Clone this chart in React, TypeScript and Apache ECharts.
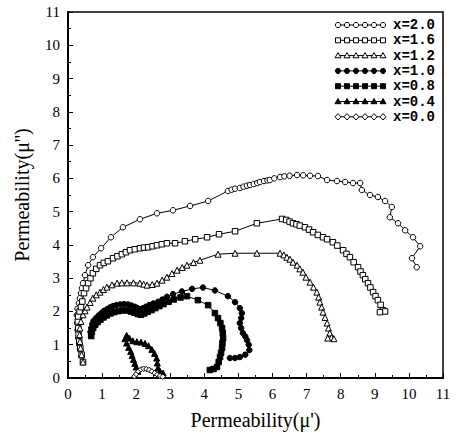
import React, { useEffect, useRef } from "react";
import * as echarts from "echarts";

const xTicks = [0, 1, 2, 3, 4, 5, 6, 7, 8, 9, 10, 11];
const yTicks = [0, 1, 2, 3, 4, 5, 6, 7, 8, 9, 10, 11];
const seriesNames = ["x=2.0", "x=1.6", "x=1.2", "x=1.0", "x=0.8", "x=0.4", "x=0.0"];

const s20: number[][] = [
  [0.44, 0.48], [0.4, 0.65], [0.36, 0.85], [0.33, 1.0], [0.3, 1.2], [0.28, 1.44], [0.27, 1.65], [0.26, 1.89],
  [0.28, 2.08], [0.32, 2.25], [0.35, 2.4], [0.38, 2.55], [0.41, 2.7], [0.44, 2.85], [0.5, 3.09], [0.59, 3.39],
  [0.73, 3.63], [0.97, 3.9], [1.26, 4.23], [1.61, 4.53], [2.11, 4.77], [2.61, 4.95], [3.08, 5.04], [3.58, 5.17],
  [4.11, 5.32], [4.69, 5.62], [4.8, 5.66], [4.9, 5.69], [5.04, 5.71], [5.15, 5.75], [5.25, 5.78], [5.34, 5.8],
  [5.45, 5.83], [5.55, 5.86], [5.63, 5.89], [5.75, 5.92], [5.85, 5.94], [5.92, 5.95], [6.05, 6.0], [6.22, 6.04],
  [6.35, 6.06], [6.5, 6.08], [6.72, 6.1], [6.9, 6.09], [7.1, 6.08], [7.33, 6.07], [7.6, 5.95], [7.89, 5.92],
  [8.13, 5.89], [8.36, 5.86], [8.57, 5.86], [8.62, 5.65], [8.86, 5.5], [9.09, 5.44], [9.3, 5.32], [9.5, 5.14],
  [9.44, 4.83], [9.68, 4.65], [9.89, 4.44], [10.12, 4.23], [10.33, 3.96], [10.09, 3.6], [10.23, 3.33],
];

const s16: number[][] = [
  [0.44, 0.48], [0.4, 0.7], [0.36, 0.9], [0.33, 1.1], [0.31, 1.3], [0.3, 1.5], [0.29, 1.7], [0.3, 1.85],
  [0.34, 2.0], [0.38, 2.13], [0.42, 2.3], [0.47, 2.55], [0.53, 2.7], [0.59, 2.85], [0.66, 3.0], [0.73, 3.15],
  [0.83, 3.28], [0.94, 3.39], [1.05, 3.46], [1.17, 3.51], [1.32, 3.6], [1.45, 3.66], [1.58, 3.72], [1.7, 3.78],
  [1.82, 3.84], [1.96, 3.87], [2.11, 3.9], [2.23, 3.92], [2.35, 3.93], [2.48, 3.96], [2.61, 3.99], [2.75, 4.02],
  [2.9, 4.05], [3.14, 4.05], [3.43, 4.11], [3.73, 4.17], [4.08, 4.23], [4.43, 4.32], [4.9, 4.41], [5.54, 4.65],
  [6.28, 4.78], [6.4, 4.75], [6.5, 4.7], [6.6, 4.65], [6.7, 4.62], [6.8, 4.58], [6.95, 4.53], [7.07, 4.46],
  [7.19, 4.38], [7.33, 4.3], [7.48, 4.23], [7.6, 4.17], [7.77, 4.08], [7.9, 3.98], [8.07, 3.84], [8.17, 3.73],
  [8.27, 3.63], [8.38, 3.48], [8.51, 3.33], [8.58, 3.2], [8.65, 3.09], [8.72, 2.97], [8.8, 2.85], [8.87, 2.72],
  [8.95, 2.58], [9.02, 2.46], [9.09, 2.34], [9.17, 2.2], [9.24, 2.04], [9.3, 2.0], [9.15, 1.98],
];

const s12: number[][] = [
  [0.44, 0.48], [0.4, 0.7], [0.37, 0.9], [0.35, 1.1], [0.34, 1.3], [0.35, 1.5], [0.38, 1.7], [0.44, 1.9],
  [0.5, 2.02], [0.56, 2.13], [0.65, 2.27], [0.73, 2.4], [0.83, 2.5], [0.94, 2.58], [1.04, 2.66], [1.14, 2.73],
  [1.29, 2.8], [1.44, 2.85], [1.58, 2.86], [1.73, 2.86], [1.92, 2.86], [2.11, 2.85], [2.22, 2.82], [2.32, 2.79],
  [2.47, 2.81], [2.61, 2.85], [2.76, 2.94], [2.9, 3.03], [3.05, 3.14], [3.2, 3.24], [3.35, 3.32], [3.49, 3.39],
  [3.68, 3.47], [3.87, 3.54], [4.4, 3.72], [4.9, 3.75], [5.54, 3.75], [6.22, 3.75], [6.33, 3.7], [6.42, 3.63],
  [6.51, 3.57], [6.6, 3.48], [6.72, 3.39], [6.8, 3.28], [6.89, 3.18], [6.98, 3.03], [7.1, 2.88], [7.2, 2.73],
  [7.3, 2.58], [7.35, 2.43], [7.39, 2.28], [7.44, 2.13], [7.48, 1.98], [7.54, 1.82], [7.6, 1.65], [7.64, 1.5],
  [7.68, 1.35], [7.73, 1.22], [7.8, 1.18], [7.62, 1.2],
];

const s10: number[][] = [
  [0.66, 1.38], [0.68, 1.5], [0.71, 1.62], [0.75, 1.72], [0.82, 1.8], [0.9, 1.88], [0.98, 1.95], [1.06, 2.02],
  [1.15, 2.07], [1.23, 2.12], [1.32, 2.16], [1.42, 2.19], [1.53, 2.21], [1.64, 2.22], [1.76, 2.21], [1.86, 2.18],
  [1.97, 2.14], [2.04, 2.1], [2.11, 2.07], [2.2, 2.1], [2.28, 2.14], [2.38, 2.19], [2.5, 2.24], [2.64, 2.29],
  [2.77, 2.36], [2.9, 2.44], [3.08, 2.52], [3.34, 2.6], [3.64, 2.68], [3.96, 2.72], [4.31, 2.63], [4.69, 2.46],
  [4.9, 2.28], [5.04, 2.1], [5.1, 1.95], [5.08, 1.8], [5.04, 1.65], [5.08, 1.5], [5.13, 1.35], [5.2, 1.25],
  [5.25, 1.14], [5.3, 1.0], [5.32, 0.84], [5.2, 0.7], [5.04, 0.63], [4.9, 0.6], [4.75, 0.6],
];

const s08: number[][] = [
  [0.68, 1.26], [0.7, 1.38], [0.74, 1.5], [0.8, 1.6], [0.87, 1.68], [0.95, 1.75], [1.04, 1.82], [1.14, 1.88],
  [1.25, 1.94], [1.36, 1.98], [1.48, 2.01], [1.6, 2.03], [1.72, 2.03], [1.84, 2.0], [1.95, 1.96], [2.05, 1.92],
  [2.14, 1.9], [2.24, 1.94], [2.34, 1.99], [2.45, 2.04], [2.56, 2.1], [2.68, 2.16], [2.8, 2.22], [2.95, 2.29],
  [3.1, 2.36], [3.3, 2.42], [3.49, 2.46], [3.81, 2.34], [4.11, 2.19], [4.31, 1.95], [4.4, 1.8], [4.47, 1.65],
  [4.52, 1.5], [4.54, 1.35], [4.55, 1.2], [4.53, 1.05], [4.52, 0.9], [4.49, 0.76], [4.46, 0.63], [4.42, 0.48],
  [4.37, 0.33], [4.27, 0.27], [4.16, 0.24],
];

const s04: number[][] = [
  [2.79, 0.15], [2.7, 0.2], [2.64, 0.3], [2.62, 0.45], [2.6, 0.6], [2.54, 0.74], [2.46, 0.86], [2.36, 0.97],
  [2.26, 1.04], [2.14, 1.08], [2.02, 1.09], [1.9, 1.12], [1.8, 1.2], [1.72, 1.28], [1.67, 1.18], [1.72, 1.05],
  [1.78, 0.92], [1.84, 0.8], [1.88, 0.68], [1.92, 0.56], [1.96, 0.44], [2.0, 0.33], [2.05, 0.2],
];

const s00: number[][] = [
  [1.95, 0.05], [2.0, 0.12], [2.06, 0.2], [2.14, 0.26], [2.22, 0.28], [2.3, 0.27], [2.38, 0.24], [2.46, 0.2],
  [2.54, 0.15], [2.62, 0.1], [2.7, 0.06], [2.78, 0.04],
];

const seriesData = [s20, s16, s12, s10, s08, s04, s00];
const symbols = ["circle", "rect", "triangle", "circle", "rect", "triangle", "diamond"];
const filled = [false, false, false, true, true, true, false];

const FONT = "'Liberation Serif', 'DejaVu Serif', serif";

function legendMarker(kind: string, cx: number, cy: number, fill: boolean) {
  const style = { fill: fill ? "#000" : "#fff", stroke: "#000", lineWidth: 1 };
  if (kind === "circle") return { type: "circle", shape: { cx, cy, r: 2.6 }, style };
  if (kind === "rect") return { type: "rect", shape: { x: cx - 2.5, y: cy - 2.5, width: 5, height: 5 }, style };
  if (kind === "triangle")
    return { type: "polygon", shape: { points: [[cx, cy - 3], [cx + 3, cy + 2.2], [cx - 3, cy + 2.2]] }, style };
  return { type: "polygon", shape: { points: [[cx, cy - 3.2], [cx + 3, cy], [cx, cy + 3.2], [cx - 3, cy]] }, style };
}

export default function App() {
  const ref = useRef<HTMLDivElement>(null);
  useEffect(() => {
    const chart = echarts.init(ref.current!, null, { renderer: "svg" });
    const legendEls: any[] = [];
    seriesNames.forEach((name, i) => {
      const y = 25 + i * 15.3;
      const x0 = 338;
      const x1 = 383;
      legendEls.push({ type: "line", shape: { x1: x0, y1: y, x2: x1, y2: y }, style: { stroke: "#000", lineWidth: 1 } });
      for (let k = 0; k < 6; k++) {
        legendEls.push(legendMarker(symbols[i], x0 + (k * (x1 - x0)) / 5, y, filled[i]));
      }
      legendEls.push({
        type: "text",
        x: 393,
        y,
        style: { text: name, font: `bold 14px 'Liberation Mono', monospace`, fill: "#000", verticalAlign: "middle", align: "left" },
      });
    });

    chart.setOption({
      animation: false,
      backgroundColor: "#fff",
      grid: { left: 68, right: 15, top: 12, bottom: 59, show: true, borderColor: "#000", borderWidth: 1.5, backgroundColor: "transparent" },
      xAxis: {
        type: "value",
        min: 0,
        max: 11,
        interval: 1,
        name: "Permeability(μ')",
        nameLocation: "middle",
        nameGap: 32,
        nameTextStyle: { fontFamily: FONT, fontSize: 20, color: "#000" },
        axisLine: { show: true, lineStyle: { color: "#000", width: 2 } },
        axisTick: { show: true, inside: true, length: 5, lineStyle: { color: "#000", width: 1 } },
        minorTick: { show: true, splitNumber: 2, length: 3, lineStyle: { color: "#000" } },
        axisLabel: { fontFamily: FONT, fontSize: 15, color: "#000", margin: 8, customValues: xTicks },
        splitLine: { show: false },
      },
      yAxis: {
        type: "value",
        min: 0,
        max: 11,
        interval: 1,
        name: "Permeability(μ'')",
        nameLocation: "middle",
        nameGap: 36,
        nameTextStyle: { fontFamily: FONT, fontSize: 20, color: "#000" },
        axisLine: { show: true, lineStyle: { color: "#000", width: 2 } },
        axisTick: { show: true, inside: true, length: 5, lineStyle: { color: "#000", width: 1 } },
        minorTick: { show: true, splitNumber: 2, length: 3, lineStyle: { color: "#000" } },
        axisLabel: { fontFamily: FONT, fontSize: 15, color: "#000", margin: 8, customValues: yTicks },
        splitLine: { show: false },
      },
      series: seriesData.map((data, i) => ({
        name: seriesNames[i],
        type: "line",
        data,
        symbol: symbols[i],
        symbolSize: symbols[i] === "triangle" ? 6 : 5.5,
        showAllSymbol: true,
        lineStyle: { color: "#000", width: 1 },
        itemStyle: { color: filled[i] ? "#000" : "#fff", borderColor: "#000", borderWidth: 1 },
        emphasis: { disabled: true },
        clip: false,
      })),
      graphic: legendEls,
    });
    return () => chart.dispose();
  }, []);
  return (
    <div
      ref={ref}
      style={{ position: "fixed", left: 0, top: 0, width: 458, height: 437, background: "#fff" }}
    />
  );
}
